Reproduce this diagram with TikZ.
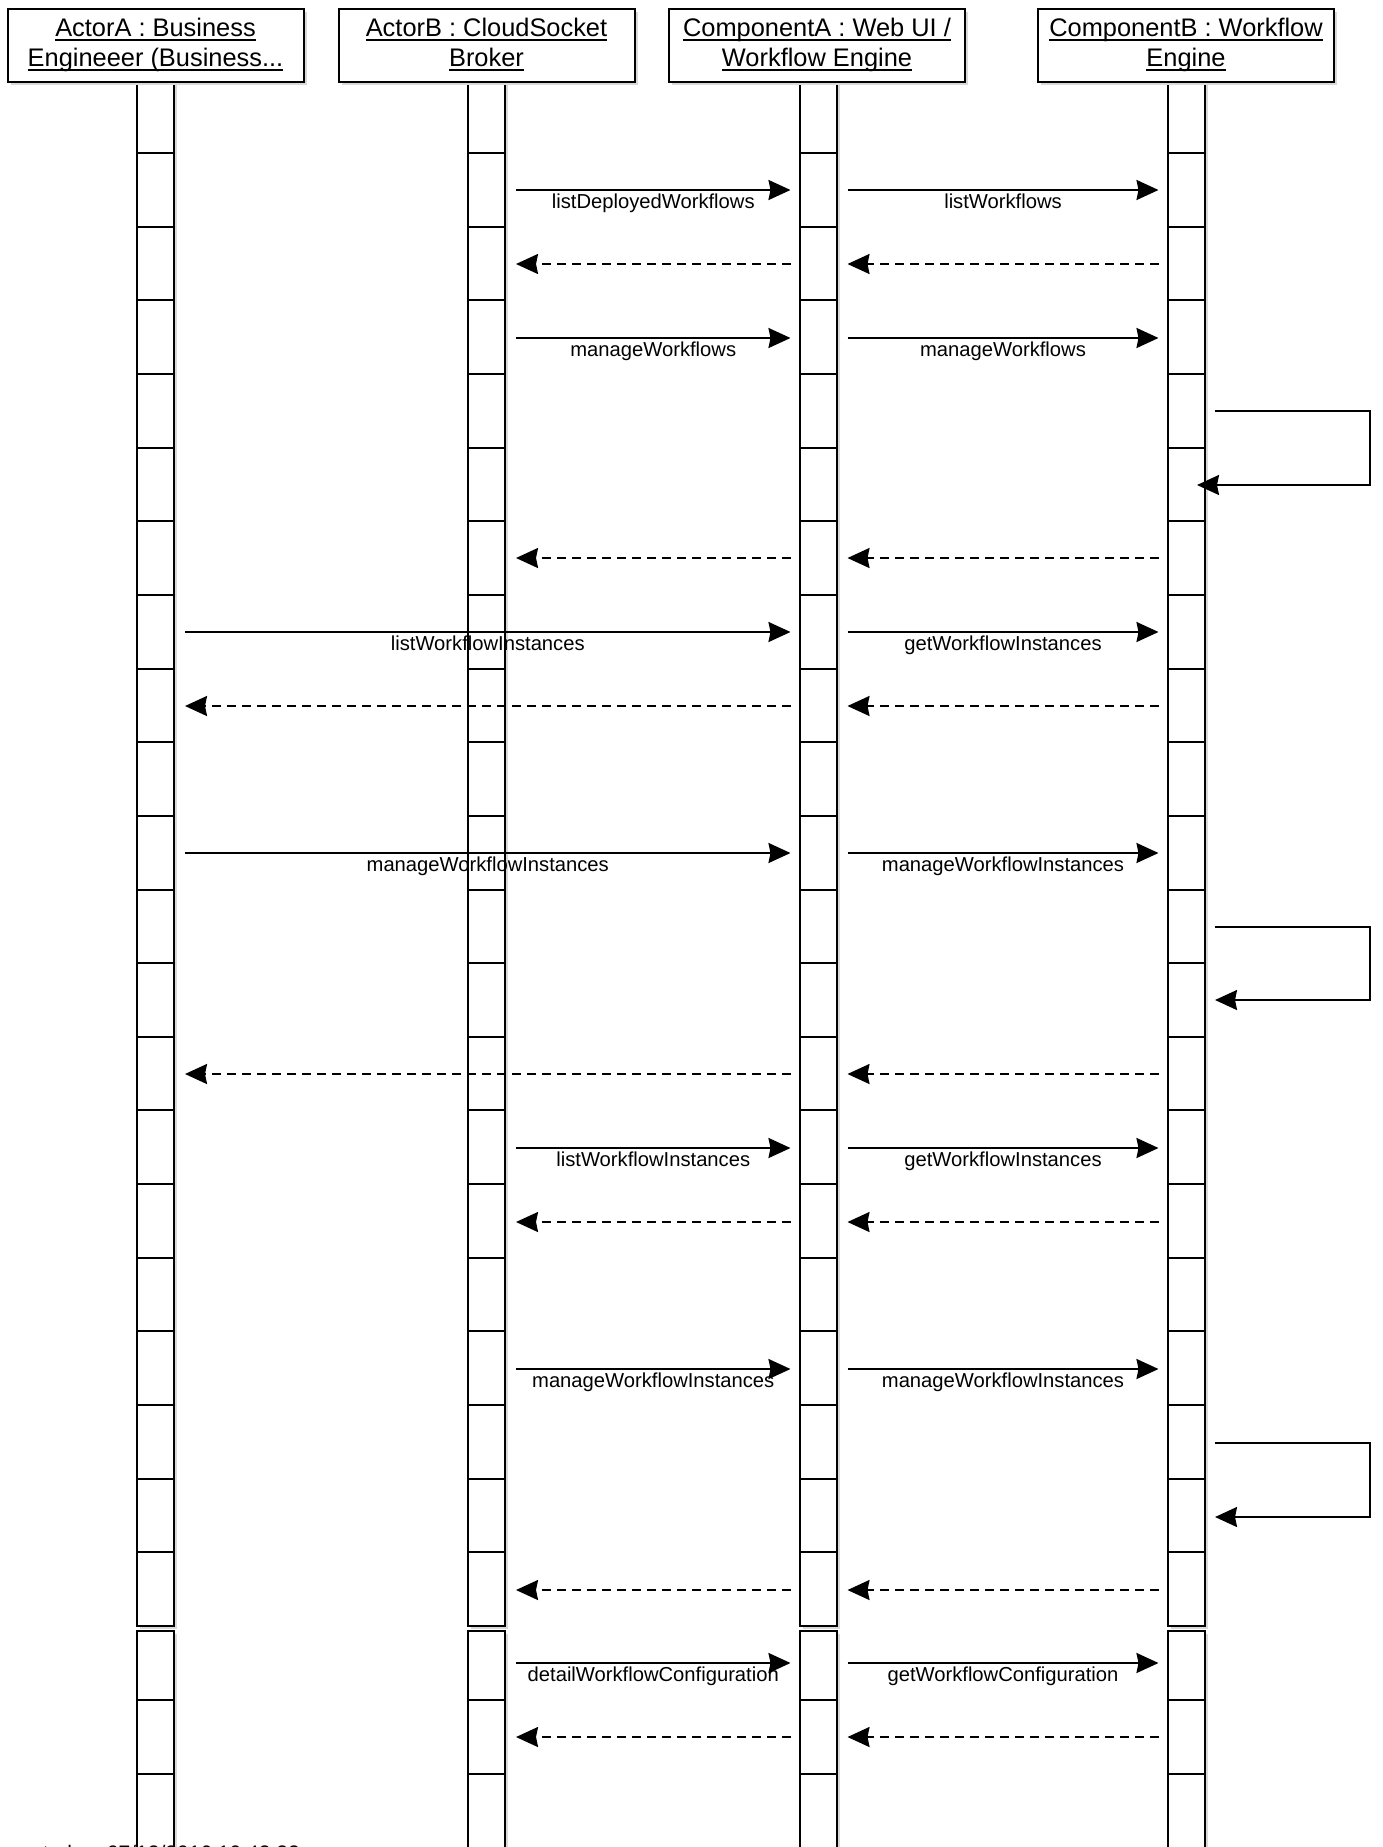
\documentclass[tikz,border=0pt]{standalone}
\usepackage{fontspec}
\setmainfont{Liberation Sans}
\usetikzlibrary{arrows.meta,calc,shadows}
\newcommand\ulx[1]{\leavevmode\setbox0=\hbox{\strut#1}\rlap{\rule[-2pt]{\wd0}{0.55pt}}\box0}
% send message: from lane #1 to lane #2 at row #3 with label #4
\newcommand\sendmsg[4]{%
  \path ($(lane#1.east|-0,#3)+(11,0)$) coordinate (m#3#1s)
        ($(lane#2.west|-0,#3)+(-9,0)$) coordinate (m#3#2e);
  \draw[sendline] (m#3#1s) -- node[msglabel]{#4} (m#3#2e);
}
% return message: from lane #1 back to lane #2 at row #3
\newcommand\retmsg[3]{%
  \path ($(lane#1.west|-0,#3)+(-9,0)$) coordinate (r#3#1s)
        ($(lane#2.east|-0,#3)+(11,0)$) coordinate (r#3#2e);
  \draw[retline] (r#3#1s) -- (r#3#2e);
}
% self message on lane #1 from row #2 to row #3, tip offset #4
\newcommand\selfmsg[4]{%
  \path ($(lane#1.east|-0,#2)+(10.5,0)$) coordinate (s#2a)
        ($(lane#1.east|-0,#3)+(#4,0)$) coordinate (s#2b);
  \draw[sendline] (s#2a) -- ++(155,0) |- (s#2b);
}
\begin{document}
\begin{tikzpicture}[x=0.5pt,y=-0.5pt,
  every node/.style={inner sep=0pt, outer sep=0pt},
  shade/.style={general shadow={fill=black!15, shadow xshift=1.5pt, shadow yshift=-1.5pt}},
  headbox/.style={draw, line width=1pt, fill=white, shade, minimum width=148pt,
    minimum height=36.5pt, align=center, font=\fontsize{12.7}{15}\selectfont},
  lanebox/.style={draw, line width=1pt, fill=white, shade, minimum width=18.5pt},
  sepline/.style={line width=1pt},
  tiphead/.style={-{Stealth[length=11pt,width=10pt,inset=1pt]}},
  sendline/.style={line width=1pt, tiphead},
  retline/.style={line width=1pt, dash pattern=on 4.5pt off 3pt, tiphead},
  msglabel/.style={anchor=base, yshift=-9pt, font=\fontsize{10.1}{12}\selectfont},
]
\path[use as bounding box, clip] (0,0) rectangle (1382,1847);
\fill[white] (0,0) rectangle (1382,1847);

% lifelines (activation bars)
\node[lanebox, minimum height=772pt] (laneA) at (155.5,854) {};
\node[lanebox, minimum height=772pt] (laneB) at (486.5,854) {};
\node[lanebox, minimum height=772pt] (laneC) at (818,854) {};
\node[lanebox, minimum height=772pt] (laneD) at (1186,854) {};
\node[lanebox, minimum height=140pt] (laneA2) at (155.5,1771) {};
\node[lanebox, minimum height=140pt] (laneB2) at (486.5,1771) {};
\node[lanebox, minimum height=140pt] (laneC2) at (818,1771) {};
\node[lanebox, minimum height=140pt] (laneD2) at (1186,1771) {};

\foreach \cx in {155.5,486.5,818,1186}{
  \foreach \k in {0,...,19}{
    \pgfmathsetmacro\yy{153+73.65*\k}
    \draw[sepline] (\cx-18.5,\yy) -- (\cx+18.5,\yy);
  }
  \foreach \yy in {1700,1774}{
    \draw[sepline] (\cx-18.5,\yy) -- (\cx+18.5,\yy);
  }
}

% headers
\node[headbox] (hA) at (155.5,45.5) {\ulx{ActorA : Business}\\\ulx{Engineeer (Business...}};
\node[headbox] (hB) at (486.5,45.5) {\ulx{ActorB : CloudSocket}\\\ulx{Broker}};
\node[headbox] (hC) at (817,45.5) {\ulx{ComponentA : Web UI /}\\\ulx{Workflow Engine}};
\node[headbox] (hD) at (1186,45.5) {\ulx{ComponentB : Workflow}\\\ulx{Engine}};

% messages
\sendmsg{B}{C}{190}{listDeployedWorkflows}
\sendmsg{C}{D}{190}{listWorkflows}
\retmsg{D}{C}{264}
\retmsg{C}{B}{264}
\sendmsg{B}{C}{338}{manageWorkflows}
\sendmsg{C}{D}{338}{manageWorkflows}
\selfmsg{D}{411}{485}{-7.5}
\retmsg{D}{C}{558}
\retmsg{C}{B}{558}
\sendmsg{A}{C}{632}{listWorkflowInstances}
\sendmsg{C}{D}{632}{getWorkflowInstances}
\retmsg{D}{C}{706}
\retmsg{C}{A}{706}
\sendmsg{A}{C}{853}{manageWorkflowInstances}
\sendmsg{C}{D}{853}{manageWorkflowInstances}
\selfmsg{D}{927}{1000}{10.5}
\retmsg{D}{C}{1074}
\retmsg{C}{A}{1074}
\sendmsg{B}{C}{1148}{listWorkflowInstances}
\sendmsg{C}{D}{1148}{getWorkflowInstances}
\retmsg{D}{C}{1222}
\retmsg{C}{B}{1222}
\sendmsg{B}{C}{1369}{manageWorkflowInstances}
\sendmsg{C}{D}{1369}{manageWorkflowInstances}
\selfmsg{D}{1443}{1517}{10.5}
\retmsg{D}{C}{1590}
\retmsg{C}{B}{1590}
\sendmsg{B}{C}{1663}{detailWorkflowConfiguration}
\sendmsg{C}{D}{1663}{getWorkflowConfiguration}
\retmsg{D}{C}{1737}
\retmsg{C}{B}{1737}

% footer (cut off by the page edge, as in the reference)
\node[anchor=base west, font=\fontsize{10.5}{12}\selectfont] (foot) at (2,1860) {created on 07/12/2016 10:42:22};
\end{tikzpicture}
\end{document}
